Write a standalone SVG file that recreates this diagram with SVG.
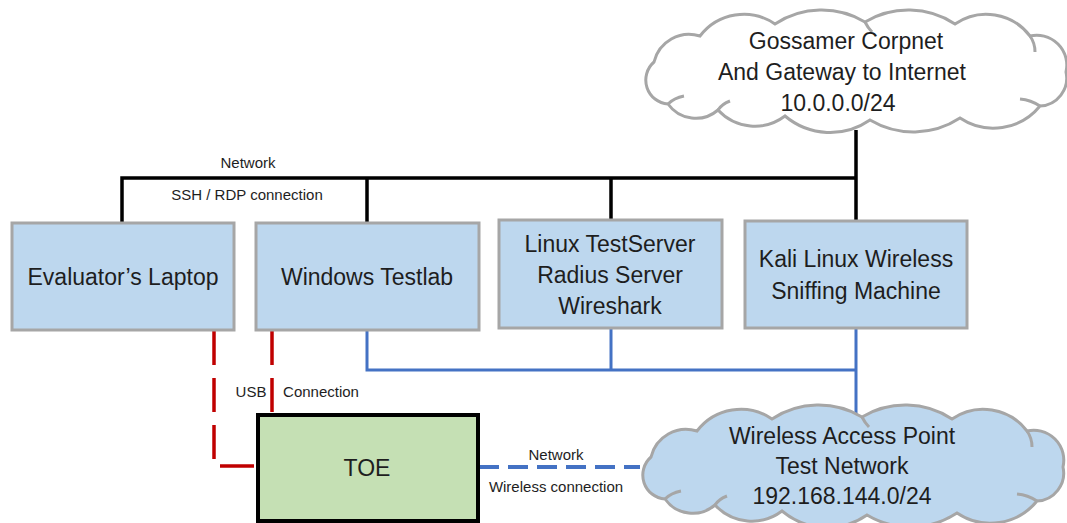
<svg xmlns="http://www.w3.org/2000/svg" width="1067" height="523" viewBox="0 0 1067 523">
<style>
text{font-family:"Liberation Sans",Arial,sans-serif;fill:#1e1e1e;text-anchor:middle}
.big{font-size:23px}
.sm{font-size:15px}
.box{fill:#bdd7ee;stroke:#a6a6a6;stroke-width:3}
.cloud{stroke:#a6a6a6;stroke-width:3}
.curl{fill:none;stroke:#a6a6a6;stroke-width:3}
.blk{fill:none;stroke:#000;stroke-width:3.5}
.blu{fill:none;stroke:#4472c4;stroke-width:3}
.red{fill:none;stroke:#c00000;stroke-width:3.5;stroke-dasharray:34 13}
.bdash{fill:none;stroke:#4472c4;stroke-width:4;stroke-dasharray:20 9}
</style>
<defs>
<path id="cloudShape" d="M668,104 A24,24 0 0 1 654,62 A36,36 0 0 1 700,36 A55,55 0 0 1 775,24 A85,85 0 0 1 865,22 A85,85 0 0 1 955,24 A55,55 0 0 1 1030,36 A30,30 0 0 1 1066,72 A28,28 0 0 1 1040,106 A60,60 0 0 1 960,118 A85,85 0 0 1 870,120 A70,70 0 0 1 785,116 A50,50 0 0 1 718,110 A34,34 0 0 1 668,104 Z"/>
<path id="curls" d="M668,104 Q674,98 684,96 M718,110 Q722,104 730,101 M1030,36 Q1035,43 1035,52 M1040,106 Q1031,100 1020,99 M865,22 Q868,28 872,32"/>
</defs>
<g id="connectors">
<path class="blk" d="M122,223 V178 H857 M367,178 V223 M611,178 V220 M856,130 V221"/>
<path class="blu" d="M367,331 V370 H857 M611,329 V370 M856,329 V422"/>
<path class="red" d="M214,331 V466 H257"/>
<path class="red" d="M272,331 V414"/>
<path class="bdash" d="M479,467 H640"/>
<text class="sm" x="248" y="168">Network</text>
<text class="sm" x="247" y="200">SSH / RDP connection</text>
<text class="sm" x="251" y="397">USB</text>
<text class="sm" x="321" y="397">Connection</text>
<text class="sm" x="556" y="460">Network</text>
<text class="sm" x="556" y="492">Wireless connection</text>
</g>
<g id="corpnet">
<use href="#cloudShape" class="cloud" fill="#ffffff"/>
<use href="#curls" class="curl"/>
<text class="big" x="846" y="49">Gossamer Corpnet</text>
<text class="big" x="842" y="80">And Gateway to Internet</text>
<text class="big" x="838" y="111">10.0.0.0/24</text>
</g>
<g id="laptop">
<rect class="box" x="12" y="223" width="222" height="107"/>
<text class="big" x="123" y="285">Evaluator’s Laptop</text>
</g>
<g id="windows">
<rect class="box" x="256" y="223" width="223" height="107"/>
<text class="big" x="367" y="285">Windows Testlab</text>
</g>
<g id="linux">
<rect class="box" x="499" y="220" width="223" height="108"/>
<text class="big" x="610" y="252">Linux TestServer</text>
<text class="big" x="610" y="283">Radius Server</text>
<text class="big" x="610" y="314">Wireshark</text>
</g>
<g id="kali">
<rect class="box" x="745" y="221" width="222" height="107"/>
<text class="big" x="856" y="267">Kali Linux Wireless</text>
<text class="big" x="856" y="299">Sniffing Machine</text>
</g>
<g id="toe">
<rect x="258" y="415" width="220" height="106" fill="#c5e0b4" stroke="#000" stroke-width="4"/>
<text class="big" x="367" y="476">TOE</text>
</g>
<g id="wap">
<use href="#cloudShape" class="cloud" fill="#bdd7ee" transform="translate(-3,395)"/>
<use href="#curls" class="curl" transform="translate(-3,395)"/>
<text class="big" x="842" y="444">Wireless Access Point</text>
<text class="big" x="842" y="474">Test Network</text>
<text class="big" x="842" y="504">192.168.144.0/24</text>
</g>
</svg>
